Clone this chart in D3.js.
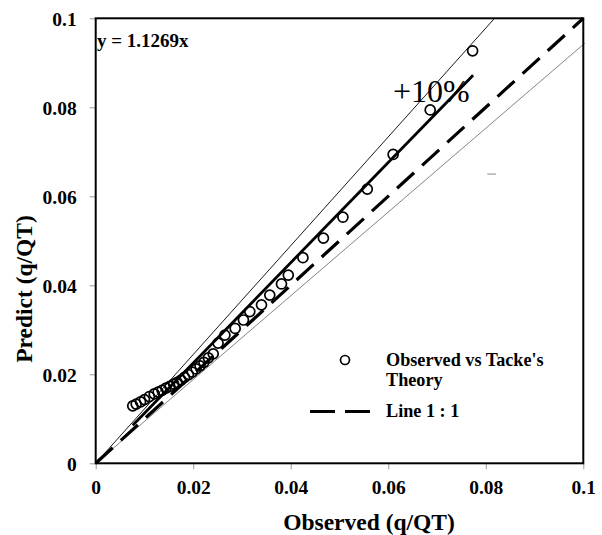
<!DOCTYPE html>
<html>
<head>
<meta charset="utf-8">
<script src="https://cdn.jsdelivr.net/npm/d3@7/dist/d3.min.js"></script>
<style>
  html, body { margin: 0; padding: 0; background: #fff; }
  svg { display: block; }
  text { font-family: "Liberation Serif", "Times New Roman", serif; fill: #000; }
</style>
</head>
<body>
<svg id="chart" width="602" height="535"></svg>
<script>
// ---- Data ----
const observed = [0.0076, 0.0083, 0.0092, 0.0100, 0.0110, 0.0120, 0.0128, 0.0136, 0.0144, 0.0152,
                  0.0160, 0.0167, 0.0175, 0.0182, 0.0190, 0.0198, 0.0206, 0.0214, 0.0222, 0.0231,
                  0.0241, 0.0251, 0.0265, 0.0286, 0.0303, 0.0316, 0.0340, 0.0357, 0.0381, 0.0395,
                  0.0425, 0.0467, 0.0507, 0.0557, 0.0610, 0.0686, 0.0773];
const predicted = [0.0129, 0.0133, 0.0138, 0.0143, 0.0150, 0.0156, 0.0160, 0.0164, 0.0169, 0.0173,
                   0.0178, 0.0182, 0.0187, 0.0193, 0.0199, 0.0205, 0.0212, 0.0219, 0.0227, 0.0237,
                   0.0246, 0.0270, 0.0288, 0.0303, 0.0322, 0.0341, 0.0356, 0.0378, 0.0403, 0.0423,
                   0.0462, 0.0506, 0.0553, 0.0616, 0.0694, 0.0794, 0.0927];
const fitSlope = 1.1269;
const fitRange = [0.0076, 0.0774];
const oneToOne = [[0, 0], [0.1, 0.1]];
const upperBand = [[0, 0], [0.0818, 0.1]];
const lowerBand = [[0, 0], [0.1003, 0.0944]];
const strayMark = [[0.0803, 0.065], [0.0821, 0.065]];
const xTicks = [0, 0.02, 0.04, 0.06, 0.08, 0.1];
const yTicks = [0, 0.02, 0.04, 0.06, 0.08, 0.1];
const tickLabels = ["0", "0.02", "0.04", "0.06", "0.08", "0.1"];
const legendLabels = [["Observed vs Tacke's", "Theory"], ["Line 1 : 1"]];
const equationLabel = "y = 1.1269x";
const bandLabel = "+10%";
const xTitle = "Observed (q/QT)";
const yTitle = "Predict (q/QT)";

// ---- Layout ----
const svg = d3.select("#chart");
const plot = { left: 95.7, right: 583.3, top: 18.3, bottom: 463.3 };
const x = d3.scaleLinear().domain([0, 0.1]).range([plot.left, plot.right]);
const y = d3.scaleLinear().domain([0, 0.1]).range([plot.bottom, plot.top]);
const line = d3.line().x(d => x(d[0])).y(d => y(d[1]));

// Axes (ticks outward, gray)
const xAxis = d3.axisBottom(x).tickValues(xTicks).tickSize(6).tickFormat((d, i) => tickLabels[i]);
const yAxis = d3.axisLeft(y).tickValues(yTicks).tickSize(6).tickFormat((d, i) => tickLabels[i]);

const gx = svg.append("g").attr("transform", `translate(0,${plot.bottom})`).call(xAxis);
gx.select(".domain").remove();
gx.selectAll(".tick line").attr("stroke", "#999").attr("stroke-width", 1);
gx.selectAll(".tick text").attr("y", 31).attr("dy", null)
  .style("font-family", '"Liberation Serif", "Times New Roman", serif')
  .style("font-size", "19.5px").style("font-weight", "bold").attr("fill", "#000");

const gy = svg.append("g").attr("transform", `translate(${plot.left},0)`).call(yAxis);
gy.select(".domain").remove();
gy.selectAll(".tick line").attr("stroke", "#999").attr("stroke-width", 1);
gy.selectAll(".tick text").attr("x", -19).attr("dy", "0.36em")
  .style("font-family", '"Liberation Serif", "Times New Roman", serif')
  .style("font-size", "19.5px").style("font-weight", "bold").attr("fill", "#000");

// Reference lines
svg.append("path").datum(upperBand).attr("d", line)
  .attr("fill", "none").attr("stroke", "#000").attr("stroke-width", 0.9);
svg.append("path").datum(lowerBand).attr("d", line)
  .attr("fill", "none").attr("stroke", "#777").attr("stroke-width", 0.9);
svg.append("path").datum(strayMark).attr("d", line)
  .attr("fill", "none").attr("stroke", "#888").attr("stroke-width", 1);

// 1:1 dashed
svg.append("path").datum(oneToOne).attr("d", line)
  .attr("fill", "none").attr("stroke", "#000").attr("stroke-width", 3.2)
  .attr("stroke-dasharray", "23,11");

// Points
const pts = observed.map((v, i) => [v, predicted[i]]);
svg.append("g").selectAll("circle").data(pts).join("circle")
  .attr("cx", d => x(d[0])).attr("cy", d => y(d[1])).attr("r", 5)
  .attr("fill", "none").attr("stroke", "#000").attr("stroke-width", 1.7);

// Fit line
svg.append("path").datum(fitRange.map(v => [v, v * fitSlope])).attr("d", line)
  .attr("fill", "none").attr("stroke", "#000").attr("stroke-width", 2.8);

// Plot frame
svg.append("rect")
  .attr("x", plot.left).attr("y", plot.top)
  .attr("width", plot.right - plot.left).attr("height", plot.bottom - plot.top)
  .attr("fill", "none").attr("stroke", "#000").attr("stroke-width", 2);

// Labels
svg.append("text").attr("x", 97).attr("y", 47)
  .style("font-size", "19px").style("font-weight", "bold").text(equationLabel);
svg.append("text").attr("x", 393).attr("y", 102)
  .style("font-size", "32px").text(bandLabel);

svg.append("text").attr("x", 369).attr("y", 530).attr("text-anchor", "middle")
  .style("font-size", "23.5px").style("font-weight", "bold").text(xTitle);
svg.append("text").attr("transform", "translate(32,289) rotate(-90)").attr("text-anchor", "middle")
  .style("font-size", "23.5px").style("font-weight", "bold").text(yTitle);

// Legend
const lg = svg.append("g");
lg.append("circle").attr("cx", 345).attr("cy", 360).attr("r", 4.5)
  .attr("fill", "none").attr("stroke", "#000").attr("stroke-width", 1.7);
lg.append("line").attr("x1", 310).attr("x2", 370).attr("y1", 411.5).attr("y2", 411.5)
  .attr("stroke", "#000").attr("stroke-width", 3.2).attr("stroke-dasharray", "25,10");
const t1 = lg.append("text").attr("x", 386).attr("y", 366)
  .style("font-size", "18.2px").style("font-weight", "bold");
legendLabels[0].forEach((s, i) => t1.append("tspan").attr("x", 386).attr("dy", i === 0 ? 0 : 20).text(s));
lg.append("text").attr("x", 386).attr("y", 417)
  .style("font-size", "18.2px").style("font-weight", "bold").text(legendLabels[1][0]);
</script>
</body>
</html>
